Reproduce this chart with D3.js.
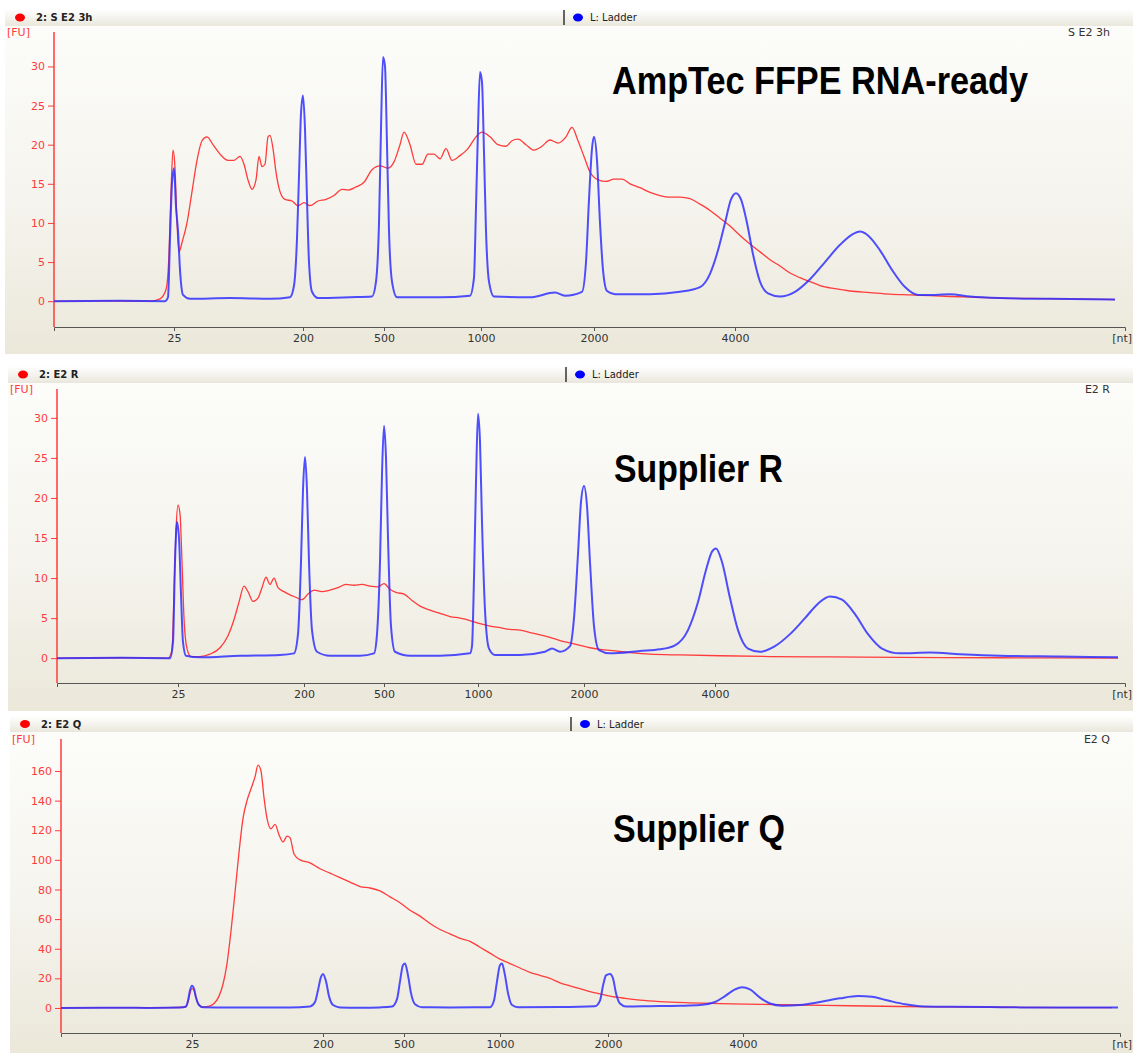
<!DOCTYPE html>
<html>
<head>
<meta charset="utf-8">
<script src="https://cdn.jsdelivr.net/npm/d3@7"></script>
<style>
  html, body { margin: 0; padding: 0; background: #ffffff; }
  svg { display: block; }
</style>
</head>
<body>
<div id="chart"></div>
<script>
// ladder sizes used as x tick labels
const sizeLabels = ["25", "200", "500", "1000", "2000", "4000"]

// migration time (s) of each ladder size, one list per run
const ticksS3h = [21.0, 27.45, 31.5, 36.35, 42.0, 49.05]
const ticksR = [21.05, 27.35, 31.35, 36.05, 41.35, 47.9]
const ticksQ = [21.55, 28.1, 32.15, 36.95, 42.35, 49.1]

const fuTicksSmall = [0, 5, 10, 15, 20, 25, 30]
const fuTicksLarge = [0, 20, 40, 60, 80, 100, 120, 140, 160]

// [time s, FU]
const sampleS3h = [[15,0],[17.3,0.05],[19.8,0],[20.3,0.3],[20.6,1.5],[20.75,6],[20.85,14],[20.95,19.3],[21.05,17],[21.15,10],[21.25,6.3],[21.4,7.5],[21.65,10],[21.9,14],[22.15,18],[22.4,20.5],[22.65,21],[22.95,20],[23.3,18.8],[23.7,18],[24.0,18],[24.3,18.5],[24.5,17.5],[24.7,15.5],[24.9,14.3],[25.1,15.5],[25.25,18.5],[25.4,17.2],[25.55,17.5],[25.7,21],[25.8,21.2],[25.95,19.5],[26.1,16.5],[26.3,14],[26.55,13],[26.9,12.8],[27.2,12.2],[27.5,12.6],[27.8,12.2],[28.2,12.8],[28.6,13],[29.0,13.5],[29.4,14.3],[29.7,14.2],[30.1,14.6],[30.5,15.2],[30.9,16.8],[31.3,17.3],[31.7,17],[32.0,17.8],[32.3,20],[32.5,21.6],[32.8,20],[33.1,17.5],[33.4,17.5],[33.7,18.8],[34.0,18.8],[34.3,18.2],[34.6,19.5],[34.9,18],[35.3,18.6],[35.7,19.5],[36.1,21],[36.4,21.6],[36.8,21],[37.2,20],[37.6,19.8],[37.9,20.5],[38.2,20.7],[38.6,20],[39.0,19.3],[39.4,19.8],[39.8,20.6],[40.2,20.2],[40.6,21],[40.9,22.2],[41.2,20.5],[41.5,18.5],[41.8,16.5],[42.2,15.5],[42.6,15.3],[43.0,15.6],[43.4,15.6],[43.8,15],[44.3,14.5],[44.8,13.9],[45.3,13.5],[45.8,13.3],[46.3,13.3],[46.8,13.1],[47.3,12.4],[47.8,11.6],[48.3,10.6],[48.8,9.6],[49.3,8.4],[49.8,7.3],[50.3,6.3],[50.8,5.3],[51.3,4.5],[51.8,3.6],[52.3,3],[52.8,2.5],[53.3,2],[54.05,1.6],[54.8,1.3],[55.8,1.1],[56.8,0.9],[57.8,0.8],[58.8,0.7],[59.8,0.6],[61.05,0.5],[62.3,0.4],[63.8,0.35],[65.3,0.3],[66.8,0.25],[68.05,0.2]]

const ladderS3h = [[15,0],[18.3,0.05],[20.55,0],[20.7,0.5],[20.8,8],[20.9,15],[21.0,17],[21.1,12],[21.2,9],[21.3,4],[21.45,0.8],[21.8,0.3],[23.8,0.4],[25.8,0.3],[26.8,0.5],[27.0,2],[27.15,8],[27.25,16],[27.35,24],[27.45,26.3],[27.55,22],[27.65,13],[27.75,5],[27.9,1.2],[28.2,0.4],[29.8,0.5],[30.9,0.6],[31.1,2.5],[31.25,10],[31.35,22],[31.45,31.2],[31.55,30],[31.65,20],[31.75,9],[31.9,2.5],[32.15,0.5],[34.3,0.5],[35.8,0.7],[36.0,3],[36.1,12],[36.2,22],[36.3,29.3],[36.4,28],[36.5,19],[36.6,9],[36.75,2.5],[37.0,0.6],[38.8,0.5],[40.05,1.1],[40.55,0.7],[41.4,1.2],[41.6,5],[41.75,13],[41.9,19.5],[42.0,21],[42.15,18],[42.3,10],[42.45,4],[42.65,1.3],[43.05,0.9],[44.8,0.9],[46.3,1.2],[47.3,1.8],[47.8,3.5],[48.2,6.5],[48.55,10],[48.85,13],[49.1,13.8],[49.35,13],[49.65,10],[49.95,6],[50.3,2.5],[50.7,1],[51.3,0.6],[52.05,1.2],[52.8,2.8],[53.55,5],[54.3,7.2],[54.9,8.5],[55.3,8.9],[55.7,8.4],[56.3,6.5],[56.9,4],[57.55,1.8],[58.2,0.8],[59.05,0.8],[59.8,0.9],[60.8,0.6],[62.3,0.4],[64.8,0.3],[68.05,0.2]]

const sampleR = [[15,0],[18.15,0.05],[20.55,0],[20.75,1],[20.85,8],[20.95,16],[21.05,19.1],[21.15,18],[21.25,12],[21.35,5],[21.5,1.2],[21.7,0.2],[22.15,0.2],[22.65,0.5],[23.15,1.3],[23.55,2.8],[23.85,4.8],[24.1,7],[24.35,9],[24.55,8.3],[24.8,7.1],[25.05,7.5],[25.25,8.8],[25.45,10.1],[25.65,9.2],[25.85,10],[26.05,8.8],[26.35,8.3],[26.65,7.9],[26.95,7.6],[27.25,7.3],[27.55,8],[27.85,8.5],[28.25,8.3],[28.65,8.5],[29.05,8.8],[29.45,9.2],[29.85,9.1],[30.25,9.2],[30.65,9],[31.05,8.9],[31.35,9.3],[31.65,8.6],[31.95,8.2],[32.35,8],[32.75,7.2],[33.15,6.5],[33.65,6],[34.15,5.6],[34.65,5.2],[35.15,5],[35.65,4.7],[36.15,4.3],[36.65,4],[37.15,3.8],[37.65,3.6],[38.15,3.5],[38.65,3.2],[39.15,2.9],[39.65,2.6],[40.15,2.2],[40.65,1.9],[41.15,1.6],[41.65,1.3],[42.15,1.1],[42.9,0.9],[43.65,0.7],[44.65,0.5],[46.15,0.4],[48.15,0.3],[50.65,0.2],[53.65,0.15],[57.15,0.1],[62.15,0.05],[68.05,0]]

const ladderR = [[15,0],[18.15,0.05],[20.65,0],[20.8,2],[20.9,12],[21.0,17],[21.1,15],[21.2,8],[21.3,2],[21.45,0.3],[22.15,0.1],[24.15,0.3],[26.15,0.4],[26.85,0.6],[27.05,3],[27.2,12],[27.3,21],[27.4,25.1],[27.5,21],[27.6,12],[27.75,3.5],[28.0,0.8],[28.65,0.3],[30.15,0.3],[30.85,0.6],[31.0,3],[31.15,12],[31.25,23],[31.35,29],[31.45,25],[31.55,15],[31.7,4],[31.9,0.8],[32.65,0.3],[34.15,0.3],[35.65,0.6],[35.75,1.5],[35.85,10],[35.95,22],[36.05,30.5],[36.15,27],[36.25,17],[36.4,6],[36.6,1.2],[36.9,0.4],[38.15,0.4],[39.4,0.8],[39.75,1.2],[40.15,0.8],[40.65,1.5],[40.85,5],[41.05,13],[41.2,19.5],[41.35,21.5],[41.5,19],[41.65,12],[41.85,4],[42.1,1],[42.65,0.6],[44.15,0.9],[45.15,1.1],[45.9,1.6],[46.55,3.5],[47.05,7],[47.45,11],[47.75,13.3],[47.95,13.7],[48.25,12],[48.65,7.5],[49.05,3.5],[49.55,1.2],[50.15,0.8],[50.9,1.5],[51.65,3],[52.4,5],[53.05,6.8],[53.65,7.7],[54.25,7.3],[54.9,5.5],[55.55,3],[56.25,1.2],[57.15,0.6],[58.65,0.7],[60.15,0.5],[62.15,0.3],[65.15,0.2],[68.05,0.1]]

const sampleQ = [[15,0],[17.95,0.3],[20.45,0.2],[21.2,0.5],[21.35,4],[21.45,10],[21.55,13],[21.65,12],[21.75,7],[21.9,2],[22.1,0.5],[22.35,1],[22.65,3],[22.9,8],[23.1,16],[23.3,30],[23.5,52],[23.7,78],[23.9,105],[24.1,128],[24.3,140],[24.5,148],[24.7,156],[24.85,164],[25.0,160],[25.15,142],[25.3,128],[25.5,121],[25.7,124],[25.9,117],[26.1,112],[26.3,116],[26.45,115],[26.65,104],[26.95,100],[27.45,98],[27.95,94],[28.45,91],[28.95,88],[29.45,85],[29.95,82],[30.45,81],[30.95,79],[31.45,75],[31.95,71],[32.45,66],[32.95,62],[33.45,57],[33.95,53],[34.45,50],[34.95,47],[35.45,45],[35.95,41],[36.45,37],[36.95,33],[37.45,30],[37.95,27],[38.45,24],[38.95,22],[39.45,20],[39.95,17],[40.45,15],[40.95,13],[41.45,11],[41.95,9.5],[42.45,8],[43.2,6.5],[43.95,5.3],[44.95,4.3],[46.45,3.5],[47.95,3],[49.95,2.4],[51.95,2],[54.45,1.5],[56.95,1],[59.45,0.7],[61.95,0.5],[64.95,0.3],[67.55,0.2]]

const ladderQ = [[15,0],[17.95,0.2],[19.45,0],[20.95,0.3],[21.25,1],[21.35,5],[21.45,12],[21.55,15],[21.65,13],[21.75,7],[21.9,2],[22.1,0.5],[23.45,0.3],[26.45,0.3],[27.45,1],[27.7,4],[27.85,12],[28.0,21],[28.1,23],[28.25,18],[28.4,8],[28.6,2],[28.95,0.4],[29.95,0.1],[30.95,0.4],[31.55,1],[31.8,6],[31.95,18],[32.1,29],[32.2,30],[32.35,22],[32.5,10],[32.7,2.5],[33.05,0.5],[34.45,0.4],[36.45,0.5],[36.65,5],[36.8,18],[36.95,29],[37.05,30],[37.2,22],[37.35,10],[37.55,2],[37.85,0.5],[39.95,0.6],[41.7,1.2],[41.95,5],[42.1,15],[42.25,22],[42.45,23],[42.6,20],[42.75,10],[42.95,3],[43.25,1],[44.45,1.2],[45.95,1.5],[46.95,2],[47.7,4],[48.2,8],[48.7,12.5],[49.05,14],[49.45,12.5],[49.95,7],[50.45,3],[51.05,1.5],[51.95,2],[52.95,4],[53.95,6.5],[54.85,8],[55.55,7.5],[56.35,5],[57.2,2.5],[57.95,1.2],[59.45,0.8],[61.45,0.6],[62.95,0.4],[67.85,0.3]]

const W = 1133, H = 1053
const red = "#ff3b3b", blue = "#3030ff"
const font = "'DejaVu Sans', Verdana, sans-serif"

const svg = d3.select("#chart").append("svg")
    .attr("width", W).attr("height", H)

const defs = svg.append("defs")
const bgGrad = defs.append("linearGradient").attr("id", "bg").attr("x1", 0).attr("x2", 0).attr("y1", 0).attr("y2", 1)
bgGrad.append("stop").attr("offset", "0%").attr("stop-color", "#fdfdfb")
bgGrad.append("stop").attr("offset", "55%").attr("stop-color", "#f5f4ee")
bgGrad.append("stop").attr("offset", "100%").attr("stop-color", "#ebe8da")
const hdGrad = defs.append("linearGradient").attr("id", "hd").attr("x1", 0).attr("x2", 0).attr("y1", 0).attr("y2", 1)
hdGrad.append("stop").attr("offset", "0%").attr("stop-color", "#ffffff")
hdGrad.append("stop").attr("offset", "100%").attr("stop-color", "#e9e7dc")

const panels = [
    {run: "S E2 3h", sample: sampleS3h, ladder: ladderS3h, ticks: ticksS3h, fuTicks: fuTicksSmall,
     fuDomain: [-3.3, 34.4], tEnd: 68.55,
     left: 5, hTop: 9, hBot: 26, bottom: 354, axisX: 54, plotTop: 32, axisY: 327, right: 1125, sep: 564,
     note: "AmpTec FFPE RNA-ready", noteX: 612, noteY: 94, noteW: 416},
    {run: "E2 R", sample: sampleR, ladder: ladderR, ticks: ticksR, fuTicks: fuTicksSmall,
     fuDomain: [-3.1, 33.6], tEnd: 68.4,
     left: 8, hTop: 366, hBot: 383, bottom: 711, axisX: 57, plotTop: 389, axisY: 683, right: 1125, sep: 566,
     note: "Supplier R", noteX: 614, noteY: 482, noteW: 169},
    {run: "E2 Q", sample: sampleQ, ladder: ladderQ, ticks: ticksQ, fuTicks: fuTicksLarge,
     fuDomain: [-16.9, 181.6], tEnd: 67.95,
     left: 10, hTop: 716, hBot: 732, bottom: 1053, axisX: 61, plotTop: 739, axisY: 1033, right: 1120, sep: 571,
     note: "Supplier Q", noteX: 613, noteY: 842, noteW: 172}
]

panels.forEach(drawPanel)

function drawPanel(p) {
    const g = svg.append("g")

    // backgrounds
    g.append("rect").attr("x", p.left).attr("y", p.hTop).attr("width", W - p.left).attr("height", p.bottom - p.hTop)
        .attr("fill", "url(#bg)")
    g.append("rect").attr("x", p.left).attr("y", p.hTop).attr("width", W - p.left).attr("height", p.hBot - p.hTop)
        .attr("fill", "url(#hd)")

    // header legend
    const hy = (p.hTop + p.hBot) / 2
    g.append("ellipse").attr("cx", p.left + 15).attr("cy", hy).attr("rx", 5).attr("ry", 4).attr("fill", "#ff0000")
    g.append("text").attr("x", p.left + 31).attr("y", hy + 3.5).text("2: " + p.run)
        .style("font-family", font).style("font-size", "10px").style("font-weight", "bold").attr("fill", "#222")
    g.append("line").attr("x1", p.sep).attr("x2", p.sep).attr("y1", p.hTop + 1).attr("y2", p.hBot - 1)
        .attr("stroke", "#333").attr("stroke-width", 1.5)
    g.append("ellipse").attr("cx", p.sep + 14).attr("cy", hy).attr("rx", 5).attr("ry", 4).attr("fill", "#0000ff")
    g.append("text").attr("x", p.sep + 26).attr("y", hy + 3.5).text("L: Ladder")
        .style("font-family", font).style("font-size", "10px").attr("fill", "#222")

    g.append("text").attr("x", 1110).attr("y", p.plotTop + 4).attr("text-anchor", "end").text(p.run)
        .style("font-family", font).style("font-size", "11px").attr("fill", "#333")

    // scales
    const x = d3.scaleLinear().domain([15, p.tEnd]).range([p.axisX, p.right])
    const y = d3.scaleLinear().domain(p.fuDomain).range([p.axisY, p.plotTop])

    // x axis
    const xAxis = g.append("g").attr("transform", `translate(0,${p.axisY})`)
        .call(d3.axisBottom(x).tickValues(p.ticks).tickFormat((d, i) => sizeLabels[i]).tickSize(4).tickPadding(3))
    xAxis.select(".domain").attr("stroke", "#555")
    xAxis.selectAll(".tick line").attr("stroke", "#555")
    xAxis.selectAll("text").attr("fill", "#333").style("font-family", font).style("font-size", "11px")
    g.append("text").attr("x", 1132).attr("y", p.axisY + 15).attr("text-anchor", "end").text("[nt]")
        .style("font-family", font).style("font-size", "11px").attr("fill", "#333")

    // y axis
    const yAxis = g.append("g").attr("transform", `translate(${p.axisX},0)`)
        .call(d3.axisLeft(y).tickValues(p.fuTicks).tickSize(6).tickPadding(3))
    yAxis.select(".domain").remove()
    yAxis.selectAll(".tick line").attr("stroke", red)
    yAxis.selectAll("text").attr("fill", red).style("font-family", font).style("font-size", "11px")
    g.append("line").attr("x1", p.axisX).attr("x2", p.axisX).attr("y1", p.plotTop).attr("y2", p.axisY)
        .attr("stroke", red).attr("stroke-width", 1.5)
    g.append("text").attr("x", p.left + 2).attr("y", p.plotTop + 4).text("[FU]")
        .style("font-family", font).style("font-size", "11px").attr("fill", red)

    // traces
    const line = d3.line().curve(d3.curveMonotoneX).x(d => x(d[0])).y(d => y(d[1]))
    g.append("path").datum(p.sample).attr("d", line)
        .attr("fill", "none").attr("stroke", red).attr("stroke-width", 1.3).attr("stroke-linejoin", "round")
    g.append("path").datum(p.ladder).attr("d", line)
        .attr("fill", "none").attr("stroke", blue).attr("stroke-opacity", 0.85).attr("stroke-width", 2).attr("stroke-linejoin", "round")

    // annotation
    g.append("text").attr("x", p.noteX).attr("y", p.noteY).text(p.note)
        .attr("textLength", p.noteW).attr("lengthAdjust", "spacingAndGlyphs")
        .style("font-family", "'Liberation Sans', Arial, sans-serif").style("font-size", "38px").style("font-weight", "bold")
        .attr("fill", "#000")
}
</script>
</body>
</html>
